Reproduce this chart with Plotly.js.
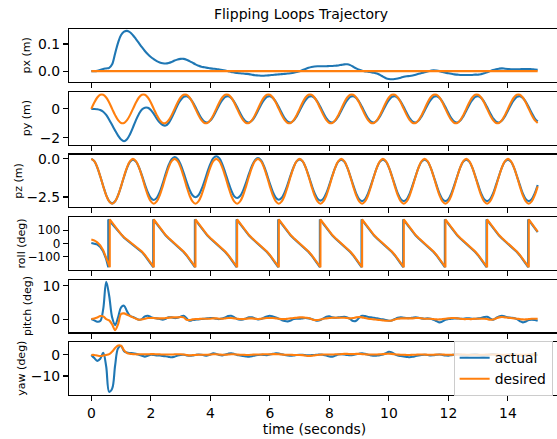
<!DOCTYPE html>
<html>
<head>
<meta charset="utf-8">
<script src="https://cdn.plot.ly/plotly-3.0.1.min.js"></script>
<style>
html,body{margin:0;padding:0;overflow:hidden;background:#fff;}
#chart{width:562px;height:439px;}
</style>
</head>
<body>
<div id="chart"></div>
<script>
// ---------------- data ----------------
const time = [
0,0.1,0.2,0.3,0.4,0.5,0.6,0.7,0.8,0.9,
1,1.1,1.2,1.3,1.4,1.5,1.6,1.7,1.8,1.9,
2,2.1,2.2,2.3,2.4,2.5,2.6,2.7,2.8,2.9,
3,3.1,3.2,3.3,3.4,3.5,3.6,3.7,3.8,3.9,
4,4.1,4.2,4.3,4.4,4.5,4.6,4.7,4.8,4.9,
5,5.1,5.2,5.3,5.4,5.5,5.6,5.7,5.8,5.9,
6,6.1,6.2,6.3,6.4,6.5,6.6,6.7,6.8,6.9,
7,7.1,7.2,7.3,7.4,7.5,7.6,7.7,7.8,7.9,
8,8.1,8.2,8.3,8.4,8.5,8.6,8.7,8.8,8.9,
9,9.1,9.2,9.3,9.4,9.5,9.6,9.7,9.8,9.9,
10,10.1,10.2,10.3,10.4,10.5,10.6,10.7,10.8,10.9,
11,11.1,11.2,11.3,11.4,11.5,11.6,11.7,11.8,11.9,
12,12.1,12.2,12.3,12.4,12.5,12.6,12.7,12.8,12.9,
13,13.1,13.2,13.3,13.4,13.5,13.6,13.7,13.8,13.9,
14,14.1,14.2,14.3,14.4,14.5,14.6,14.7,14.8,14.9,
15];

const pxActual = [
0,0,0.001,0.004,0.008,0.010,0.012,0.025,0.065,0.105,
0.133,0.145,0.148,0.143,0.132,0.118,0.103,0.088,0.074,0.062,
0.052,0.044,0.037,0.032,0.029,0.028,0.030,0.034,0.039,0.043,
0.045,0.045,0.042,0.037,0.031,0.025,0.020,0.016,0.014,0.012,
0.010,0.009,0.008,0.006,0.004,0.002,0.000,-0.003,-0.005,-0.007,
-0.008,-0.009,-0.010,-0.011,-0.013,-0.015,-0.016,-0.017,-0.017,-0.016,
-0.015,-0.014,-0.013,-0.012,-0.011,-0.010,-0.009,-0.008,-0.006,-0.003,
0.000,0.004,0.008,0.012,0.015,0.017,0.018,0.018,0.018,0.018,
0.019,0.019,0.020,0.021,0.023,0.025,0.025,0.022,0.016,0.010,
0.005,0.001,-0.001,-0.002,-0.004,-0.006,-0.009,-0.014,-0.020,-0.026,
-0.029,-0.030,-0.029,-0.027,-0.024,-0.021,-0.019,-0.018,-0.016,-0.013,
-0.010,-0.007,-0.004,-0.001,0.001,0.003,0.002,0.000,-0.003,-0.006,
-0.008,-0.010,-0.012,-0.013,-0.014,-0.014,-0.014,-0.014,-0.014,-0.013,
-0.013,-0.011,-0.008,-0.004,0.000,0.004,0.007,0.009,0.010,0.009,
0.008,0.007,0.007,0.007,0.007,0.008,0.008,0.008,0.007,0.006,
0.005];
const pxDesiredTime = [0, 15];
const pxDesired = [0, 0];

const pyActual = [
0,-0.01,-0.03,-0.08,-0.20,-0.42,-0.75,-1.12,-1.50,-1.85,
-2.12,-2.24,-2.10,-1.75,-1.28,-0.78,-0.35,-0.05,0.08,0.07,
-0.08,-0.35,-0.68,-0.95,-1.12,-1.15,-0.98,-0.62,-0.18,0.27,
0.60,0.82,0.88,0.76,0.49,0.12,-0.29,-0.65,-0.88,-0.94,
-0.81,-0.52,-0.13,0.27,0.60,0.82,0.88,0.76,0.49,0.12,
-0.29,-0.65,-0.88,-0.94,-0.81,-0.52,-0.13,0.27,0.60,0.82,
0.88,0.76,0.49,0.12,-0.29,-0.65,-0.88,-0.94,-0.81,-0.52,
-0.13,0.27,0.60,0.82,0.88,0.76,0.49,0.12,-0.29,-0.65,
-0.88,-0.94,-0.81,-0.52,-0.13,0.27,0.60,0.82,0.88,0.76,
0.49,0.12,-0.29,-0.65,-0.88,-0.94,-0.81,-0.52,-0.13,0.27,
0.60,0.82,0.88,0.76,0.49,0.12,-0.29,-0.65,-0.88,-0.94,
-0.81,-0.52,-0.13,0.27,0.60,0.82,0.88,0.76,0.49,0.12,
-0.29,-0.65,-0.88,-0.94,-0.81,-0.52,-0.13,0.27,0.60,0.82,
0.88,0.76,0.49,0.12,-0.29,-0.65,-0.88,-0.94,-0.81,-0.52,
-0.13,0.27,0.60,0.82,0.88,0.76,0.49,0.12,-0.29,-0.65,
-0.88];
const pyDesired = [
0,0.434,0.782,0.975,0.975,0.782,0.434,0,-0.434,-0.782,
-0.975,-0.975,-0.782,-0.434,0,0.434,0.782,0.975,0.975,0.782,
0.434,0,-0.434,-0.782,-0.975,-0.975,-0.782,-0.434,0,0.434,
0.782,0.975,0.975,0.782,0.434,0,-0.434,-0.782,-0.975,-0.975,
-0.782,-0.434,0,0.434,0.782,0.975,0.975,0.782,0.434,0,
-0.434,-0.782,-0.975,-0.975,-0.782,-0.434,0,0.434,0.782,0.975,
0.975,0.782,0.434,0,-0.434,-0.782,-0.975,-0.975,-0.782,-0.434,
0,0.434,0.782,0.975,0.975,0.782,0.434,0,-0.434,-0.782,
-0.975,-0.975,-0.782,-0.434,0,0.434,0.782,0.975,0.975,0.782,
0.434,0,-0.434,-0.782,-0.975,-0.975,-0.782,-0.434,0,0.434,
0.782,0.975,0.975,0.782,0.434,0,-0.434,-0.782,-0.975,-0.975,
-0.782,-0.434,0,0.434,0.782,0.975,0.975,0.782,0.434,0,
-0.434,-0.782,-0.975,-0.975,-0.782,-0.434,0,0.434,0.782,0.975,
0.975,0.782,0.434,0,-0.434,-0.782,-0.975,-0.975,-0.782,-0.434,
0,0.434,0.782,0.975,0.975,0.782,0.434,0,-0.434,-0.782,
-0.975];

const pzActual = [
0,-0.14,-0.55,-1.14,-1.78,-2.37,-2.78,-2.92,-2.78,-2.38,
-1.80,-1.17,-0.59,-0.19,-0.05,-0.18,-0.55,-1.08,-1.67,-2.20,
-2.57,-2.70,-2.56,-2.17,-1.60,-0.97,-0.40,-0.01,0.13,0.00,
-0.37,-0.90,-1.49,-2.02,-2.39,-2.52,-2.39,-2.01,-1.47,-0.87,
-0.33,0.05,0.18,0.05,-0.34,-0.89,-1.50,-2.05,-2.44,-2.57,
-2.44,-2.08,-1.55,-0.97,-0.44,-0.08,0.05,-0.08,-0.46,-1.01,
-1.62,-2.17,-2.55,-2.68,-2.55,-2.18,-1.65,-1.06,-0.53,-0.16,
-0.03,-0.16,-0.54,-1.08,-1.69,-2.23,-2.61,-2.74,-2.61,-2.23,
-1.69,-1.10,-0.56,-0.18,-0.05,-0.18,-0.56,-1.11,-1.71,-2.26,
-2.64,-2.77,-2.64,-2.26,-1.71,-1.11,-0.56,-0.18,-0.05,-0.18,
-0.56,-1.11,-1.71,-2.26,-2.64,-2.77,-2.64,-2.26,-1.71,-1.11,
-0.56,-0.18,-0.05,-0.18,-0.56,-1.11,-1.71,-2.26,-2.64,-2.77,
-2.64,-2.26,-1.71,-1.11,-0.56,-0.18,-0.05,-0.18,-0.56,-1.11,
-1.71,-2.26,-2.64,-2.77,-2.64,-2.26,-1.71,-1.11,-0.56,-0.18,
-0.05,-0.18,-0.56,-1.11,-1.71,-2.26,-2.64,-2.77,-2.64,-2.26,
-1.71];
const pzDesired = [
0,-0.15,-0.55,-1.14,-1.80,-2.39,-2.79,-2.94,-2.79,-2.39,
-1.80,-1.14,-0.55,-0.15,0,-0.15,-0.55,-1.14,-1.80,-2.39,
-2.79,-2.94,-2.79,-2.39,-1.80,-1.14,-0.55,-0.15,0,-0.15,
-0.55,-1.14,-1.80,-2.39,-2.79,-2.94,-2.79,-2.39,-1.80,-1.14,
-0.55,-0.15,0,-0.15,-0.55,-1.14,-1.80,-2.39,-2.79,-2.94,
-2.79,-2.39,-1.80,-1.14,-0.55,-0.15,0,-0.15,-0.55,-1.14,
-1.80,-2.39,-2.79,-2.94,-2.79,-2.39,-1.80,-1.14,-0.55,-0.15,
0,-0.15,-0.55,-1.14,-1.80,-2.39,-2.79,-2.94,-2.79,-2.39,
-1.80,-1.14,-0.55,-0.15,0,-0.15,-0.55,-1.14,-1.80,-2.39,
-2.79,-2.94,-2.79,-2.39,-1.80,-1.14,-0.55,-0.15,0,-0.15,
-0.55,-1.14,-1.80,-2.39,-2.79,-2.94,-2.79,-2.39,-1.80,-1.14,
-0.55,-0.15,0,-0.15,-0.55,-1.14,-1.80,-2.39,-2.79,-2.94,
-2.79,-2.39,-1.80,-1.14,-0.55,-0.15,0,-0.15,-0.55,-1.14,
-1.80,-2.39,-2.79,-2.94,-2.79,-2.39,-1.80,-1.14,-0.55,-0.15,
0,-0.15,-0.55,-1.14,-1.80,-2.39,-2.79,-2.94,-2.79,-2.39,
-1.80];

// roll wraps from -180 to +180 at these instants
const rollWrapLow = -180, rollWrapHigh = 180;
const rollActualWraps  = [0.57,2.08,3.48,4.88,6.28,7.68,9.08,10.48,11.88,13.28,14.68];
const rollDesiredWraps = [0.62,2.1,3.5,4.9,6.3,7.7,9.1,10.5,11.9,13.3,14.7];
const rollActual = [
2,-1,-8,-28,-62,-120,172,150,120,90,
64,42,24,6,-8,-25,-45,-67,-93,-123,
-155,174,145,113,84,58,36,16,-4,-24,
-44,-66,-92,-122,-155,174,145,113,84,58,
36,16,-4,-24,-44,-66,-92,-122,-155,174,
145,113,84,58,36,16,-4,-24,-44,-66,
-92,-122,-155,174,145,113,84,58,36,16,
-4,-24,-44,-66,-92,-122,-155,174,145,113,
84,58,36,16,-4,-24,-44,-66,-92,-122,
-155,174,145,113,84,58,36,16,-4,-24,
-44,-66,-92,-122,-155,174,145,113,84,58,
36,16,-4,-24,-44,-66,-92,-122,-155,174,
145,113,84,58,36,16,-4,-24,-44,-66,
-92,-122,-155,174,145,113,84,58,36,16,
-4,-24,-44,-66,-92,-122,-155,174,145,113,
84];
const rollDesired = [
28,22,8,-16,-52,-105,-170,155,124,94,
68,46,28,10,-3,-20,-40,-62,-88,-118,
-150,180,150,118,88,62,40,20,0,-20,
-40,-62,-88,-118,-150,180,150,118,88,62,
40,20,0,-20,-40,-62,-88,-118,-150,180,
150,118,88,62,40,20,0,-20,-40,-62,
-88,-118,-150,180,150,118,88,62,40,20,
0,-20,-40,-62,-88,-118,-150,180,150,118,
88,62,40,20,0,-20,-40,-62,-88,-118,
-150,180,150,118,88,62,40,20,0,-20,
-40,-62,-88,-118,-150,180,150,118,88,62,
40,20,0,-20,-40,-62,-88,-118,-150,180,
150,118,88,62,40,20,0,-20,-40,-62,
-88,-118,-150,180,150,118,88,62,40,20,
0,-20,-40,-62,-88,-118,-150,180,150,118,
88];

const pitchActual = [
0.0,-0.4,-0.8,-0.6,3.0,11.2,7.0,0.5,-1.8,0.5,
3.5,4.0,2.3,1.0,0.6,0.2,-0.2,0.0,0.8,1.0,
0.6,0.3,0.2,0.0,-0.2,0.1,0.5,0.5,0.3,0.4,
0.7,1.0,0.2,-0.5,-0.3,-0.2,-0.1,0.0,0.1,0.2,
0.3,0.3,0.1,0.0,0.2,0.5,0.9,1.0,0.6,0.0,
-0.2,-0.1,0.2,0.5,0.5,0.2,-0.1,0.0,0.4,0.8,
1.0,0.8,0.5,0.1,-0.3,-0.6,-0.7,-0.4,0.0,0.1,
0.1,0.2,0.3,0.2,0.0,-0.3,-0.5,-0.3,0.2,0.7,
0.8,0.5,0.4,0.5,0.6,0.7,0.5,0.0,-0.6,-0.5,
0.4,1.0,0.9,0.6,0.5,0.4,0.2,0.0,-0.1,-0.3,
-0.5,-0.4,0.0,0.4,0.5,0.4,0.3,0.3,0.4,0.5,
0.4,0.2,0.1,0.2,0.1,-0.2,-0.6,-1.0,-0.7,-0.2,
0.0,0.1,0.2,0.2,0.1,0.1,0.2,0.2,0.1,0.1,
0.2,0.3,0.6,0.7,0.2,-0.2,0.3,0.8,1.0,0.8,
0.5,0.4,0.3,0.0,-0.6,-1.0,-0.7,-0.3,-0.2,-0.3,
-0.5];
const pitchDesired = [
0.0,0.2,0.5,0.9,0.8,0.0,-0.4,-1.6,-3.3,-1.5,
1.5,1.7,1.3,0.9,0.5,0.1,-0.2,-0.1,0.1,0.3,
0.3,0.3,0.2,0.2,0.2,0.3,0.4,0.5,0.5,0.5,
0.6,0.5,-0.2,-0.3,-0.1,0.0,0.0,0.1,0.1,0.1,
0.1,0.2,0.2,0.1,0.1,0.2,0.3,0.3,0.2,0.1,
0.0,0.0,0.1,0.2,0.2,0.1,0.0,0.1,0.2,0.3,
0.3,0.3,0.2,0.1,0.0,0.0,0.1,0.2,0.3,0.4,
0.5,0.5,0.4,0.3,0.0,-0.3,-0.3,-0.1,0.1,0.2,
0.3,0.4,0.4,0.4,0.4,0.4,0.3,0.2,0.3,0.5,
0.6,0.5,0.3,0.1,0.0,-0.1,-0.2,-0.3,-0.4,-0.5,
-0.5,-0.4,-0.1,0.1,0.2,0.2,0.2,0.2,0.2,0.3,
0.3,0.2,0.1,0.1,0.1,0.0,-0.1,-0.1,0.0,0.1,
0.2,0.3,0.3,0.2,0.1,0.0,0.0,0.0,0.0,0.1,
0.1,0.1,0.1,0.0,-0.2,-0.1,0.2,0.5,0.6,0.5,
0.4,0.3,0.2,0.1,0.0,-0.1,-0.1,0.0,0.1,0.1,
0.1];

const yawActual = [
0.0,-1.5,-2.8,-1.8,1.0,-5.5,-17.5,-16.0,-5.0,3.2,
4.2,1.8,1.1,0.9,0.8,0.5,0.1,-0.4,-0.8,-0.4,
0.1,0.0,-0.2,-0.3,-0.5,-0.6,-0.9,-1.1,-0.8,-0.3,
0.0,0.1,-0.2,-0.4,-0.3,0.0,0.2,0.1,-0.2,-0.3,
0.2,0.8,0.5,0.0,-0.2,0.2,0.6,0.8,0.5,0.0,
-0.2,-0.5,-0.7,-0.8,-0.6,-0.2,0.0,0.1,0.0,-0.1,
0.2,0.5,0.8,0.7,0.3,0.0,-0.2,-0.3,-0.2,0.0,
0.1,0.1,-0.1,-0.2,-0.1,0.0,0.1,0.2,0.0,-0.3,
-0.7,-0.8,-0.3,0.2,0.4,0.2,0.0,-0.1,0.0,0.3,
0.6,0.8,0.5,0.1,-0.2,-0.4,-0.3,-0.1,0.2,0.8,
1.5,1.2,0.3,-0.3,-0.5,-0.7,-0.9,-1.1,-0.9,-0.5,
-0.2,0.0,0.1,0.0,-0.2,-0.1,0.1,0.2,0.0,-0.2,
-0.3,-0.1,0.2,0.3,0.1,-0.1,-0.2,0.0,0.2,0.3,
0.1,-0.2,-0.3,-0.1,0.2,0.4,0.2,0.0,-0.2,-0.1,
0.1,0.3,0.2,0.0,-0.2,-0.3,-0.1,0.1,0.2,0.1,
0.0];
const yawDesired = [
0.0,0.0,-0.3,-0.5,-0.3,0.0,0.4,1.6,3.3,4.5,
4.4,2.2,0.9,0.5,0.4,0.3,0.3,0.3,0.3,0.3,
0.4,0.4,0.3,0.3,0.2,0.2,0.2,0.2,0.3,0.3,
0.3,0.2,0.0,-0.2,-0.1,0.0,0.1,0.1,0.1,0.1,
0.2,0.3,0.3,0.2,0.1,0.1,0.2,0.3,0.3,0.2,
0.1,0.1,0.0,0.0,0.1,0.2,0.2,0.2,0.3,0.3,
0.3,0.4,0.4,0.3,0.2,0.1,0.1,0.1,0.0,0.0,
0.0,-0.1,-0.3,-0.5,-0.4,-0.2,0.0,0.1,0.2,0.2,
0.2,0.2,0.3,0.3,0.4,0.5,0.5,0.4,0.4,0.5,
0.5,0.4,0.3,0.2,0.2,0.2,0.2,0.3,0.4,0.5,
0.6,0.5,0.3,0.2,0.1,0.1,0.0,0.0,0.1,0.1,
0.2,0.2,0.2,0.1,0.1,0.1,0.2,0.2,0.2,0.1,
0.1,0.1,0.1,0.2,0.2,0.2,0.1,0.1,0.1,0.1,
0.1,0.1,0.1,0.2,0.2,0.2,0.2,0.1,0.1,0.1,
0.1,0.1,0.1,0.1,0.1,0.1,0.1,0.1,0.1,0.1,
0.1];

const xTickVals = [0,2,4,6,8,10,12,14];
const xTickText = ['0','2','4','6','8','10','12','14'];
const panelLabels = ['px (m)','py (m)','pz (m)','roll (deg)','pitch (deg)','yaw (deg)'];
const yTickVals = [[0,0.1],[-2,0],[-2.5,0],[-100,0,100],[0,10],[-10,0]];
const yTickText = [['0.0','0.1'],['\u22122','0'],['\u22122.5','0.0'],['\u2212100','0','100'],['0','10'],['\u221210','0']];

// ---------------- styling / layout ----------------
const BLUE = '#1f77b4', ORANGE = '#ff7f0e';
const FONT = 'DejaVu Sans, Liberation Sans, sans-serif';
const yRanges = [[-0.040,0.155],[-2.47,1.17],[-3.17,0.29],[-200,198],[-4.0,11.8],[-19.0,6.0]];
const yDomains = [[0.8552,1.0],[0.6842,0.8281],[0.5131,0.6571],[0.3421,0.4861],[0.1710,0.3150],[0,0.1440]];
const yTickFontSize = [13.9,13.9,13.9,12,13.9,13.9];
const yLabelX = [26,26,19,21,27,22];   // label centre, px from left
const PLOT_L = 69, PLOT_W = 491;

function insertWraps(tt, vv, wraps, lo, hi){
  const xs=[], ys=[]; let j=0;
  for(let i=0;i<tt.length;i++){
    while(j<wraps.length && wraps[j] <= tt[i]+1e-9){ xs.push(wraps[j], wraps[j]); ys.push(lo, hi); j++; }
    xs.push(tt[i]); ys.push(vv[i]);
  }
  return {xs, ys};
}
const rA = insertWraps(time, rollActual, rollActualWraps, rollWrapLow, rollWrapHigh);
const rD = insertWraps(time, rollDesired, rollDesiredWraps, rollWrapLow, rollWrapHigh);

const series = [
  {ax:[time, pxActual], de:[pxDesiredTime, pxDesired], shape:'spline'},
  {ax:[time, pyActual], de:[time, pyDesired], shape:'spline'},
  {ax:[time, pzActual], de:[time, pzDesired], shape:'spline'},
  {ax:[rA.xs, rA.ys], de:[rD.xs, rD.ys], shape:'linear'},
  {ax:[time, pitchActual], de:[time, pitchDesired], shape:'spline'},
  {ax:[time, yawActual], de:[time, yawDesired], shape:'spline'}
];

const traces = [];
const layout = {
  width:562, height:439,
  margin:{l:PLOT_L, r:2, t:29, b:44},
  paper_bgcolor:'#fff', plot_bgcolor:'#fff',
  font:{family:FONT, size:13.9, color:'#000'},
  showlegend:true,
  title:{text:'Flipping Loops Trajectory', font:{family:FONT, size:14, color:'#000'},
         x:301/562, xref:'container', xanchor:'center', y:1-14.5/439, yref:'container', yanchor:'middle'},
  legend:{x:0.985, xanchor:'right', y:0.147, yanchor:'top', bgcolor:'rgba(255,255,255,0.8)',
          bordercolor:'#cccccc', borderwidth:1, font:{family:FONT, size:13.9, color:'#000'},
          itemwidth:30, tracegroupgap:0},
  annotations:[]
};

series.forEach((s, i) => {
  const n = i+1, sx = n===1?'':String(n);
  traces.push({x:s.ax[0], y:s.ax[1], xaxis:'x'+sx, yaxis:'y'+sx, type:'scatter', mode:'lines',
    name:'actual', legendgroup:'a', showlegend:i===0, line:{color:BLUE, width:2.1, shape:s.shape}, hoverinfo:'skip'});
  traces.push({x:s.de[0], y:s.de[1], xaxis:'x'+sx, yaxis:'y'+sx, type:'scatter', mode:'lines',
    name:'desired', legendgroup:'d', showlegend:i===0, line:{color:ORANGE, width:2.1, shape:s.shape}, hoverinfo:'skip'});
  const common = {showline:true, mirror:true, linecolor:'#000', linewidth:1.1, ticks:'outside', ticklen:5,
    tickwidth:1.1, tickcolor:'#000', showgrid:false, zeroline:false, fixedrange:true,
    tickfont:{family:FONT, size:13.9, color:'#000'}};
  layout['xaxis'+sx] = Object.assign({}, common, {domain:[0,1], range:[-0.75,15.75], anchor:'y'+sx,
    tickmode:'array', tickvals:xTickVals, ticktext:xTickText, showticklabels:n===6},
    n===6 ? {title:{text:'time (seconds)', font:{family:FONT, size:13.9, color:'#000'}, standoff:4}} : {},
    n===1 ? {} : {matches:'x'});
  layout['yaxis'+sx] = Object.assign({}, common, {domain:yDomains[i], range:yRanges[i], anchor:'x'+sx,
    tickmode:'array', tickvals:yTickVals[i], ticktext:yTickText[i],
    tickfont:{family:FONT, size:yTickFontSize[i], color:'#000'}});
  layout.annotations.push({text:panelLabels[i], xref:'paper', yref:'paper',
    x:(yLabelX[i]-PLOT_L)/PLOT_W, y:(yDomains[i][0]+yDomains[i][1])/2,
    xanchor:'center', yanchor:'middle', textangle:-90, showarrow:false,
    font:{family:FONT, size:11, color:'#000'}});
});

Plotly.newPlot('chart', traces, layout, {displayModeBar:false, staticPlot:true});
</script>
</body>
</html>
